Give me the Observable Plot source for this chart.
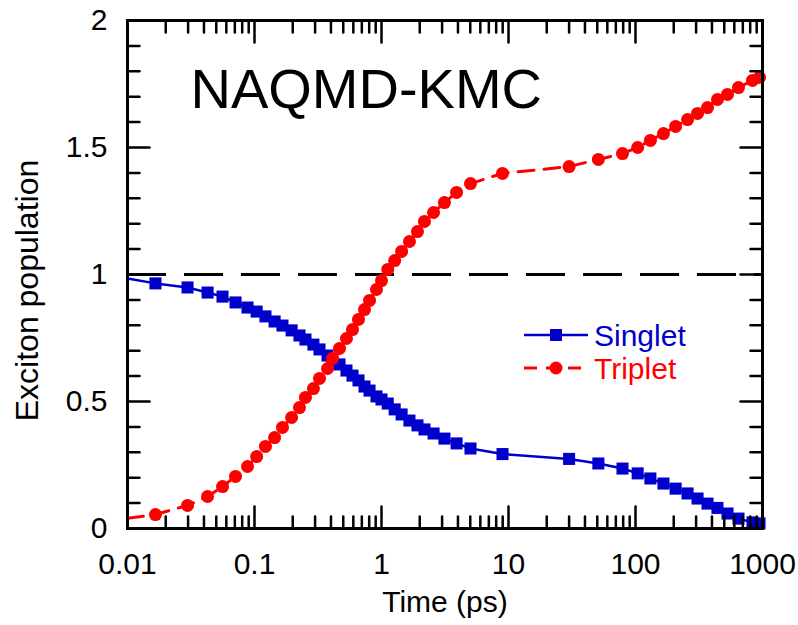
<!DOCTYPE html>
<html><head><meta charset="utf-8">
<script src="https://cdn.jsdelivr.net/npm/d3@7"></script>
<script src="https://cdn.jsdelivr.net/npm/@observablehq/plot@0.6"></script>
<style>
html,body{margin:0;padding:0;background:#fff;}
#wrap{position:relative;width:798px;height:625px;}
#legend{position:absolute;left:0;top:0;pointer-events:none;}
</style></head><body><div id="wrap"></div>
<script>
// ---- data ----
const times = [0.01, 0.0166, 0.0297, 0.0427, 0.056, 0.0709, 0.0881, 0.104, 0.122, 0.144, 0.166,
  0.196, 0.226, 0.252, 0.291, 0.325, 0.376, 0.411, 0.467, 0.530, 0.591,
  0.659, 0.735, 0.805, 0.913, 1.0, 1.12, 1.27, 1.44, 1.66, 1.92,
  2.18, 2.57, 3.13, 3.90, 5.02, 8.97,
  30, 51, 79, 104, 131, 166, 207, 257, 308, 369, 442, 530, 647, 834, 947];
const singlet = [0.984, 0.965, 0.949, 0.929, 0.913, 0.890, 0.870, 0.854, 0.835, 0.815, 0.799,
  0.780, 0.760, 0.744, 0.724, 0.705, 0.681, 0.665, 0.646, 0.622, 0.602,
  0.583, 0.559, 0.543, 0.520, 0.508, 0.492, 0.469, 0.449, 0.425, 0.406,
  0.390, 0.374, 0.354, 0.335, 0.315, 0.293,
  0.274, 0.256, 0.236, 0.217, 0.197, 0.177, 0.157, 0.138, 0.118, 0.098, 0.081, 0.059, 0.039, 0.024, 0.020];
const triplet = [0.040, 0.055, 0.091, 0.126, 0.165, 0.205, 0.244, 0.283, 0.323, 0.358, 0.398,
  0.437, 0.476, 0.516, 0.551, 0.591, 0.630, 0.669, 0.709, 0.748, 0.783,
  0.823, 0.862, 0.898, 0.941, 0.976, 1.020, 1.055, 1.091, 1.130, 1.169,
  1.209, 1.244, 1.283, 1.323, 1.358, 1.398,
  1.425, 1.453, 1.476, 1.500, 1.528, 1.555, 1.583, 1.610, 1.634, 1.657, 1.689, 1.709, 1.736, 1.764, 1.776];
const seriesNames = ["Singlet", "Triplet"];
const seriesColors = ["#0000cc", "#ff0000"];
const xTickValues = [0.01, 0.1, 1, 10, 100, 1000];
const xTickLabels = ["0.01", "0.1", "1", "10", "100", "1000"];
const yTickValues = [0, 0.5, 1, 1.5, 2];
const yTickLabels = ["0", "0.5", "1", "1.5", "2"];
const yMinorTicks = [0.1,0.2,0.3,0.4,0.6,0.7,0.8,0.9,1.1,1.2,1.3,1.4,1.6,1.7,1.8,1.9];
const referenceLevel = [1];
const title = "NAQMD-KMC";
const xLabel = "Time (ps)";
const yLabel = "Exciton population";

// ---- build ----
const FONT = "'Liberation Sans', Arial, Helvetica, sans-serif";
const xMinorTicks = [];
for (const d of xTickValues.slice(0, -1)) for (let m = 2; m <= 9; m++) xMinorTicks.push(+(d * m).toPrecision(3));

const rows = times.map((t, i) => ({t, s: singlet[i], p: triplet[i]}));
const markerRows = rows.filter(d => d.t > 0.01);

const tickShape = {draw(ctx, l) { ctx.moveTo(0, 0); ctx.lineTo(0, -l); }};
function tickMarks(values, channel, frameAnchor, rotate, length) {
  return Plot.vector(values, {[channel]: d => d, frameAnchor, rotate, length, anchor: "start",
    shape: tickShape, stroke: "black", strokeWidth: 2.5});
}

const plot = Plot.plot({
  width: 798, height: 625,
  marginLeft: 127, marginRight: 36, marginTop: 20, marginBottom: 97,
  style: {fontFamily: FONT, background: "white", color: "black"},
  x: {type: "log", domain: [0.01, 1000]},
  y: {domain: [0, 2]},
  marks: [
    Plot.ruleY(referenceLevel, {stroke: "black", strokeWidth: 3, strokeDasharray: "39,18"}),
    Plot.line(rows, {x: "t", y: "s", stroke: seriesColors[0], strokeWidth: 2.5}),
    Plot.line(rows, {x: "t", y: "p", stroke: seriesColors[1], strokeWidth: 3, strokeDasharray: "16,10"}),
    Plot.dot(markerRows, {x: "t", y: "s", symbol: "square", r: 6.8, fill: seriesColors[0]}),
    Plot.dot(markerRows, {x: "t", y: "p", symbol: "circle", r: 6.5, fill: seriesColors[1]}),
    // ticks (inward, mirrored)
    tickMarks(xTickValues, "x", "bottom", 0, 22),
    tickMarks(xMinorTicks, "x", "bottom", 0, 12),
    tickMarks(xTickValues, "x", "top", 180, 22),
    tickMarks(xMinorTicks, "x", "top", 180, 12),
    tickMarks(yTickValues, "y", "left", 90, 22),
    tickMarks(yMinorTicks, "y", "left", 90, 12),
    tickMarks(yTickValues, "y", "right", -90, 22),
    tickMarks(yMinorTicks, "y", "right", -90, 12),
    Plot.axisX(xTickValues, {anchor: "bottom", tickSize: 0, tickPadding: 24, fontSize: 30, label: null,
      tickFormat: d => xTickLabels[xTickValues.indexOf(d)]}),
    Plot.axisY(yTickValues, {anchor: "left", tickSize: 0, tickPadding: 20, fontSize: 30, label: null,
      tickFormat: d => yTickLabels[yTickValues.indexOf(d)]}),
    Plot.text([xLabel], {text: d => d, frameAnchor: "bottom", dy: 83, fontSize: 30}),
    Plot.text([yLabel], {text: d => d, frameAnchor: "left", textAnchor: "middle", lineAnchor: "middle",
      rotate: -90, dx: -100, dy: 16, fontSize: 32}),
    Plot.text([title], {text: d => d, frameAnchor: "top-left", textAnchor: "start", lineAnchor: "top",
      dx: 63, dy: 48, fontSize: 56}),
    Plot.frame({stroke: "black", strokeWidth: 3})
  ]
});
const wrap = document.getElementById("wrap");
wrap.appendChild(plot);

// legend overlay
const lg = d3.select(wrap).append("svg").attr("id", "legend")
  .attr("width", 798).attr("height", 625).style("font-family", FONT);
const legendX0 = 524, legendX1 = 588, legendMarkX = 556, legendTextX = 594, legendY0 = 335, legendStep = 33;
seriesNames.forEach((name, i) => {
  const y = legendY0 + i * legendStep;
  const g = lg.append("g");
  g.append("line").attr("x1", legendX0).attr("x2", legendX1).attr("y1", y).attr("y2", y)
    .attr("stroke", seriesColors[i]).attr("stroke-width", i ? 3 : 2.5)
    .attr("stroke-dasharray", i ? "13,9" : null);
  if (i === 0) g.append("rect").attr("x", legendMarkX - 6).attr("y", y - 6).attr("width", 12).attr("height", 12).attr("fill", seriesColors[i]);
  else g.append("circle").attr("cx", legendMarkX).attr("cy", y).attr("r", 6.5).attr("fill", seriesColors[i]);
  g.append("text").attr("x", legendTextX).attr("y", y + 11).attr("font-size", 30)
    .attr("fill", seriesColors[i]).text(name);
});
</script></body></html>
